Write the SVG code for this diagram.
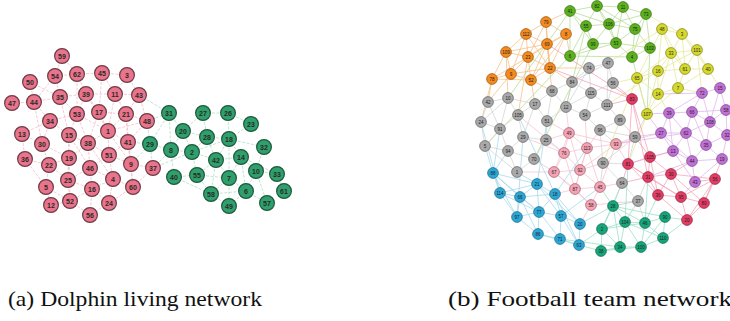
<svg xmlns="http://www.w3.org/2000/svg" width="730" height="321" viewBox="0 0 730 321">
<style>
.dp circle{fill:#e9748c;stroke:#6e3b45;stroke-width:1.2}
.dg circle{fill:#2f9f6c;stroke:#1c5a3d;stroke-width:1.2}
.dp text,.dg text{font-family:"Liberation Sans",Arial,sans-serif;font-size:7px;font-weight:bold;fill:#2a2a2a;text-anchor:middle;dominant-baseline:central}
.f circle{stroke-width:0.7;r:5.4px}
.f text{font-family:"Liberation Sans",Arial,sans-serif;font-size:4.5px;fill:#1e1e1e;text-anchor:middle;dominant-baseline:central}
.fo circle{fill:#f58a1f;stroke:#94500f}
.fg circle{fill:#5cb21c;stroke:#356a0d}
.fy circle{fill:#d5d92c;stroke:#7c7e14}
.fx circle{fill:#a9a9a9;stroke:#5e5e5e}
.fp circle{fill:#f5a3b5;stroke:#9a5a68}
.fr circle{fill:#e53c65;stroke:#8a1e3a}
.fu circle{fill:#c170d6;stroke:#74408a}
.fb circle{fill:#2ba7d6;stroke:#1a6585}
.ft circle{fill:#16a67b;stroke:#0c6348}
.e{fill:none;stroke-width:0.7}
.de{fill:none;stroke-width:0.8;stroke-dasharray:3 1.5}
.cap{font-family:"Liberation Serif","Times New Roman",serif;font-size:21px;fill:#111}
</style>
<g id="connectors">
<path class="de" stroke="#f4bcc7" d="M62 56L55 76M62 56L77 74M55 76L77 74M55 76L60 97M77 74L102 73M77 74L86 94M102 73L127 75M102 73L115 94M127 75L139 95M127 75L115 94M115 94L139 95M115 94L126 114M139 95L126 114M139 95L147 121M30 82L34 102M30 82L60 97M12 103L34 102M34 102L60 97M34 102L50 121M60 97L77 114M60 97L86 94M86 94L77 114M86 94L99 112M86 94L115 94M99 112L126 114M99 112L108 131M77 114L69 135M77 114L108 131M126 114L147 121M126 114L108 131M126 114L128 142M50 121L69 135M50 121L22 134M50 121L42 144M22 134L42 144M22 134L25 159M69 135L88 143M69 135L69 158M108 131L88 143M108 131L109 155M108 131L128 142M42 144L49 165M42 144L69 158M25 159L49 165M88 143L109 155M88 143L90 168M88 143L69 158M128 142L131 164M128 142L109 155M69 158L68 180M69 158L49 165M109 155L90 168M109 155L113 179M109 155L131 164M49 165L68 180M49 165L46 187M90 168L92 189M90 168L113 179M90 168L68 180M131 164L133 187M131 164L153 168M113 179L133 187M113 179L92 189M68 180L70 201M68 180L92 189M46 187L51 205M46 187L70 201M92 189L90 215M92 189L109 203M133 187L109 203M51 205L70 201M70 201L90 215M109 203L90 215M50 121L77 114M69 135L90 168M99 112L88 143M126 114L131 164M115 94L108 131M102 73L99 112M77 74L77 114M60 97L69 135M34 102L42 144M25 159L46 187M69 158L70 201M88 143L113 179M128 142L133 187M147 121L128 142M147 121L108 131M108 131L131 164M92 189L70 201M113 179L109 203M69 135L68 180M77 114L88 143M86 94L108 131M55 76L34 102M133 187L153 168"/>
<path class="de" stroke="#b3ddd2" d="M147 121L169 113M147 121L150 144M153 168L150 144M153 168L171 150M128 142L150 144M139 95L169 113M153 168L192 152M131 164L150 144"/>
<path class="de" stroke="#b0e0c8" d="M169 113L183 131M169 113L171 150M169 113L150 144M203 113L228 113M203 113L207 137M203 113L183 131M228 113L229 139M228 113L251 124M251 124L229 139M183 131L192 152M183 131L171 150M207 137L229 139M207 137L192 152M229 139L264 147M229 139L241 157M229 139L216 160M229 139L229 178M264 147L256 171M171 150L192 152M171 150L174 177M192 152L197 175M192 152L216 160M216 160L241 157M216 160L197 175M216 160L229 178M241 157L256 171M241 157L229 178M241 157L246 191M256 171L277 174M256 171L246 191M277 174L284 191M174 177L197 175M197 175L211 194M197 175L229 178M229 178L211 194M229 178L246 191M211 194L229 206M211 194L246 191M246 191L267 203M246 191L229 206M256 171L267 203M150 144L171 150M192 152L229 139M207 137L216 160M216 160L211 194M229 178L229 206M241 157L277 174M183 131L207 137M174 177L211 194"/>
<path class="e" stroke="#f7b978" d="M546 22L526 34M546 22L566 34M546 22L547 44M546 22L528 57M526 34L547 44M526 34L506 52M526 34L528 57M526 34L511 74M566 34L547 44M566 34L550 68M566 34L528 57M547 44L528 57M547 44L550 68M547 44L531 80M547 44L506 52M506 52L528 57M506 52L492 79M506 52L511 74M528 57L550 68M528 57L511 74M528 57L531 80M550 68L531 80M550 68L511 74M492 79L511 74M492 79L531 80M511 74L531 80M492 79L528 57M526 34L550 68M546 22L550 68M566 34L531 80M566 34L570 56M550 68L589 68M531 80L552 91M511 74L488 102M492 79L488 102M506 52L508 98M550 68L572 82M492 79L481 122M531 80L535 104M547 44L552 91M546 22L570 11M528 57L518 115"/>
<path class="e" stroke="#afd98a" d="M570 11L597 6M570 11L586 26M570 11L570 56M570 11L593 44M597 6L623 7M597 6L586 26M597 6L609 24M597 6L616 43M623 7L646 14M623 7L609 24M623 7L635 29M646 14L635 29M646 14L650 48M646 14L632 57M586 26L609 24M586 26L593 44M586 26L570 56M609 24L635 29M609 24L616 43M609 24L593 44M635 29L616 43M635 29L650 48M635 29L632 57M593 44L616 43M593 44L570 56M616 43L632 57M616 43L650 48M650 48L632 57M632 57L570 56M570 56L616 43M570 11L609 24M623 7L616 43M646 14L609 24M597 6L635 29M570 56L485 146M570 11L508 98M632 57L647 114M650 48L647 114M586 26L566 107M593 44L534 159"/>
<path class="e" stroke="#e4e68a" d="M662 29L682 34M662 29L671 53M662 29L658 71M662 29L637 78M682 34L671 53M682 34L697 50M682 34L685 69M671 53L697 50M671 53L658 71M671 53L685 69M671 53L658 94M697 50L685 69M697 50L708 69M658 71L685 69M658 71L637 78M658 71L658 94M658 71L647 114M685 69L708 69M685 69L678 88M708 69L678 88M637 78L658 94M637 78L647 114M658 94L678 88M658 94L647 114M678 88L647 114M662 29L685 69M682 34L708 69M671 53L678 88M637 78L671 53M697 50L658 71M678 88L702 93M708 69L720 88M658 94L669 113M637 78L613 83M662 29L608 63M658 71L607 105M682 34L646 14M697 50L702 93M647 114L628 164M637 78L603 163"/>
<path class="e" stroke="#d0d0d0" d="M589 68L608 63M589 68L572 82M589 68L591 93M608 63L613 83M613 83L591 93M613 83L607 105M572 82L552 91M572 82L566 107M572 82L591 93M552 91L535 104M552 91L566 107M591 93L566 107M591 93L585 115M591 93L607 105M607 105L620 120M607 105L585 115M585 115L600 130M585 115L566 107M620 120L600 130M620 120L635 137M508 98L488 102M508 98L535 104M508 98L518 115M488 102L481 122M488 102L500 129M481 122L500 129M481 122L485 146M535 104L518 115M535 104L547 121M518 115L500 129M518 115L523 137M547 121L546 140M547 121L566 107M523 137L546 140M523 137L508 151M500 129L485 146M500 129L508 151M485 146L508 151M508 151L534 159M534 159L546 140M534 159L517 172M600 130L603 163M635 137L603 163M603 163L622 183M622 183L638 201M608 63L607 105M552 91L547 121M508 98L500 129M535 104L523 137M517 172L508 151M485 146L517 172M589 68L566 107M608 63L572 82M600 130L635 137M481 122L508 98M638 201L648 177M638 201L645 223M622 183L613 206M603 163L628 164M603 163L600 187M635 137L647 114M635 137L628 164M600 130L616 144M546 140L564 153"/>
<path class="e" stroke="#f6bccb" d="M569 133L564 153M569 133L587 148M569 133L616 144M569 133L580 170M564 153L587 148M564 153L554 172M564 153L580 170M587 148L616 144M587 148L580 170M587 148L575 189M616 144L600 187M616 144L580 170M554 172L580 170M554 172L575 189M580 170L575 189M580 170L600 187M575 189L600 187M575 189L591 205M600 187L591 205M554 172L591 205M569 133L554 172M564 153L575 189M587 148L600 187M569 133L546 140M564 153L523 137M554 172L517 172M580 170L603 163M600 187L622 183M591 205L580 224M616 144L635 137M587 148L585 115M569 133L547 121M575 189L555 194M616 144L628 164M564 153L518 115M569 133L566 107M587 148L600 130M616 144L661 133M554 172L534 159M591 205L638 201"/>
<path class="e" stroke="#f39ab0" d="M632 99L628 164M632 99L650 157M632 99L648 177M650 157L628 164M650 157L648 177M650 157L671 174M628 164L648 177M628 164L658 195M648 177L671 174M648 177L658 195M648 177L681 197M671 174L715 179M671 174L681 197M671 174L658 195M715 179L681 197M715 179L704 203M658 195L681 197M658 195L687 220M681 197L704 203M681 197L687 220M704 203L687 220M628 164L681 197M671 174L704 203M650 157L658 195M715 179L687 220M632 99L550 68M632 99L547 44M671 174L692 161M715 179L695 182M704 203L722 159M650 157L673 151M632 99L613 83M628 164L622 183M632 99L607 105M648 177L622 183M650 157L635 137"/>
<path class="e" stroke="#dcaeea" d="M702 93L720 88M702 93L692 112M702 93L710 122M702 93L669 113M720 88L726 110M720 88L710 122M669 113L692 112M669 113L661 133M669 113L686 133M692 112L686 133M692 112L710 122M692 112L726 110M726 110L710 122M726 110L727 135M710 122L686 133M710 122L706 145M710 122L727 135M661 133L686 133M661 133L673 151M686 133L673 151M686 133L706 145M686 133L692 161M727 135L706 145M727 135L722 159M706 145L722 159M706 145L692 161M673 151L692 161M722 159L692 161M692 161L695 182M722 159L695 182M673 151L695 182M661 133L692 161M669 113L673 151M692 112L706 145M661 133L647 114M669 113L647 114M673 151L628 164M661 133L635 137M695 182L681 197M702 93L658 94M686 133L616 144M692 161L648 177"/>
<path class="e" stroke="#9bd5ea" d="M493 173L537 184M493 173L500 193M493 173L520 197M493 173L517 217M537 184L500 193M537 184L520 197M537 184L555 194M537 184L539 212M537 184L561 216M500 193L520 197M500 193L517 217M520 197L555 194M520 197L539 212M520 197L517 217M555 194L561 216M555 194L539 212M555 194L580 224M517 217L539 212M517 217L538 234M539 212L561 216M539 212L538 234M539 212L560 239M561 216L580 224M561 216L560 239M561 216L579 245M580 224L579 245M538 234L560 239M538 234L579 245M560 239L579 245M493 173L539 212M500 193L539 212M537 184L580 224M520 197L538 234M555 194L579 245M493 173L485 146M537 184L517 172M493 173L508 151M537 184L547 121M555 194L587 148M500 193L481 122M517 217L523 137M561 216L600 187M555 194L518 115M493 173L500 129"/>
<path class="e" stroke="#8fdcc0" d="M613 206L625 222M613 206L645 223M613 206L602 229M613 206L665 217M625 222L645 223M625 222L602 229M625 222L620 247M625 222L641 247M645 223L665 217M645 223L663 238M645 223L641 247M665 217L663 238M602 229L601 251M602 229L620 247M601 251L620 247M620 247L641 247M641 247L663 238M613 206L620 247M601 251L641 247M625 222L663 238M665 217L641 247M602 229L645 223M602 229L579 245M601 251L579 245M613 206L580 224M665 217L687 220M663 238L687 220M613 206L638 201M645 223L648 177M602 229L622 183M625 222L628 164M613 206L600 187M620 247L560 239M625 222L638 201M645 223L658 195"/>
</g>
<g id="dolphin-nodes">
<g id="dolphin-59" class="dp"><circle cx="62" cy="56" r="7.4"/><text x="62" y="56">59</text></g>
<g id="dolphin-54" class="dp"><circle cx="55" cy="76" r="7.4"/><text x="55" y="76">54</text></g>
<g id="dolphin-62" class="dp"><circle cx="77" cy="74" r="7.4"/><text x="77" y="74">62</text></g>
<g id="dolphin-45" class="dp"><circle cx="102" cy="73" r="7.4"/><text x="102" y="73">45</text></g>
<g id="dolphin-3" class="dp"><circle cx="127" cy="75" r="7.4"/><text x="127" y="75">3</text></g>
<g id="dolphin-50" class="dp"><circle cx="30" cy="82" r="7.4"/><text x="30" y="82">50</text></g>
<g id="dolphin-35" class="dp"><circle cx="60" cy="97" r="7.4"/><text x="60" y="97">35</text></g>
<g id="dolphin-39" class="dp"><circle cx="86" cy="94" r="7.4"/><text x="86" y="94">39</text></g>
<g id="dolphin-11" class="dp"><circle cx="115" cy="94" r="7.4"/><text x="115" y="94">11</text></g>
<g id="dolphin-43" class="dp"><circle cx="139" cy="95" r="7.4"/><text x="139" y="95">43</text></g>
<g id="dolphin-47" class="dp"><circle cx="12" cy="103" r="7.4"/><text x="12" y="103">47</text></g>
<g id="dolphin-44" class="dp"><circle cx="34" cy="102" r="7.4"/><text x="34" y="102">44</text></g>
<g id="dolphin-53" class="dp"><circle cx="77" cy="114" r="7.4"/><text x="77" y="114">53</text></g>
<g id="dolphin-17" class="dp"><circle cx="99" cy="112" r="7.4"/><text x="99" y="112">17</text></g>
<g id="dolphin-21" class="dp"><circle cx="126" cy="114" r="7.4"/><text x="126" y="114">21</text></g>
<g id="dolphin-48" class="dp"><circle cx="147" cy="121" r="7.4"/><text x="147" y="121">48</text></g>
<g id="dolphin-34" class="dp"><circle cx="50" cy="121" r="7.4"/><text x="50" y="121">34</text></g>
<g id="dolphin-13" class="dp"><circle cx="22" cy="134" r="7.4"/><text x="22" y="134">13</text></g>
<g id="dolphin-15" class="dp"><circle cx="69" cy="135" r="7.4"/><text x="69" y="135">15</text></g>
<g id="dolphin-1" class="dp"><circle cx="108" cy="131" r="7.4"/><text x="108" y="131">1</text></g>
<g id="dolphin-30" class="dp"><circle cx="42" cy="144" r="7.4"/><text x="42" y="144">30</text></g>
<g id="dolphin-38" class="dp"><circle cx="88" cy="143" r="7.4"/><text x="88" y="143">38</text></g>
<g id="dolphin-41" class="dp"><circle cx="128" cy="142" r="7.4"/><text x="128" y="142">41</text></g>
<g id="dolphin-36" class="dp"><circle cx="25" cy="159" r="7.4"/><text x="25" y="159">36</text></g>
<g id="dolphin-19" class="dp"><circle cx="69" cy="158" r="7.4"/><text x="69" y="158">19</text></g>
<g id="dolphin-51" class="dp"><circle cx="109" cy="155" r="7.4"/><text x="109" y="155">51</text></g>
<g id="dolphin-22" class="dp"><circle cx="49" cy="165" r="7.4"/><text x="49" y="165">22</text></g>
<g id="dolphin-46" class="dp"><circle cx="90" cy="168" r="7.4"/><text x="90" y="168">46</text></g>
<g id="dolphin-9" class="dp"><circle cx="131" cy="164" r="7.4"/><text x="131" y="164">9</text></g>
<g id="dolphin-37" class="dp"><circle cx="153" cy="168" r="7.4"/><text x="153" y="168">37</text></g>
<g id="dolphin-25" class="dp"><circle cx="68" cy="180" r="7.4"/><text x="68" y="180">25</text></g>
<g id="dolphin-4" class="dp"><circle cx="113" cy="179" r="7.4"/><text x="113" y="179">4</text></g>
<g id="dolphin-5" class="dp"><circle cx="46" cy="187" r="7.4"/><text x="46" y="187">5</text></g>
<g id="dolphin-16" class="dp"><circle cx="92" cy="189" r="7.4"/><text x="92" y="189">16</text></g>
<g id="dolphin-60" class="dp"><circle cx="133" cy="187" r="7.4"/><text x="133" y="187">60</text></g>
<g id="dolphin-12" class="dp"><circle cx="51" cy="205" r="7.4"/><text x="51" y="205">12</text></g>
<g id="dolphin-52" class="dp"><circle cx="70" cy="201" r="7.4"/><text x="70" y="201">52</text></g>
<g id="dolphin-24" class="dp"><circle cx="109" cy="203" r="7.4"/><text x="109" y="203">24</text></g>
<g id="dolphin-56" class="dp"><circle cx="90" cy="215" r="7.4"/><text x="90" y="215">56</text></g>
<g id="dolphin-29" class="dg"><circle cx="150" cy="144" r="7.4"/><text x="150" y="144">29</text></g>
<g id="dolphin-31" class="dg"><circle cx="169" cy="113" r="7.4"/><text x="169" y="113">31</text></g>
<g id="dolphin-27" class="dg"><circle cx="203" cy="113" r="7.4"/><text x="203" y="113">27</text></g>
<g id="dolphin-26" class="dg"><circle cx="228" cy="113" r="7.4"/><text x="228" y="113">26</text></g>
<g id="dolphin-23" class="dg"><circle cx="251" cy="124" r="7.4"/><text x="251" y="124">23</text></g>
<g id="dolphin-20" class="dg"><circle cx="183" cy="131" r="7.4"/><text x="183" y="131">20</text></g>
<g id="dolphin-28" class="dg"><circle cx="207" cy="137" r="7.4"/><text x="207" y="137">28</text></g>
<g id="dolphin-18" class="dg"><circle cx="229" cy="139" r="7.4"/><text x="229" y="139">18</text></g>
<g id="dolphin-32" class="dg"><circle cx="264" cy="147" r="7.4"/><text x="264" y="147">32</text></g>
<g id="dolphin-8" class="dg"><circle cx="171" cy="150" r="7.4"/><text x="171" y="150">8</text></g>
<g id="dolphin-2" class="dg"><circle cx="192" cy="152" r="7.4"/><text x="192" y="152">2</text></g>
<g id="dolphin-42" class="dg"><circle cx="216" cy="160" r="7.4"/><text x="216" y="160">42</text></g>
<g id="dolphin-14" class="dg"><circle cx="241" cy="157" r="7.4"/><text x="241" y="157">14</text></g>
<g id="dolphin-40" class="dg"><circle cx="174" cy="177" r="7.4"/><text x="174" y="177">40</text></g>
<g id="dolphin-55" class="dg"><circle cx="197" cy="175" r="7.4"/><text x="197" y="175">55</text></g>
<g id="dolphin-7" class="dg"><circle cx="229" cy="178" r="7.4"/><text x="229" y="178">7</text></g>
<g id="dolphin-10" class="dg"><circle cx="256" cy="171" r="7.4"/><text x="256" y="171">10</text></g>
<g id="dolphin-33" class="dg"><circle cx="277" cy="174" r="7.4"/><text x="277" y="174">33</text></g>
<g id="dolphin-58" class="dg"><circle cx="211" cy="194" r="7.4"/><text x="211" y="194">58</text></g>
<g id="dolphin-6" class="dg"><circle cx="246" cy="191" r="7.4"/><text x="246" y="191">6</text></g>
<g id="dolphin-61" class="dg"><circle cx="284" cy="191" r="7.4"/><text x="284" y="191">61</text></g>
<g id="dolphin-49" class="dg"><circle cx="229" cy="206" r="7.4"/><text x="229" y="206">49</text></g>
<g id="dolphin-57" class="dg"><circle cx="267" cy="203" r="7.4"/><text x="267" y="203">57</text></g>
</g>
<g id="football-nodes">
<g id="fb-79" class="f fo"><circle cx="546" cy="22" r="5.4"/><text x="546" y="22">79</text></g>
<g id="fb-112" class="f fo"><circle cx="526" cy="34" r="5.4"/><text x="526" y="34">112</text></g>
<g id="fb-8" class="f fo"><circle cx="566" cy="34" r="5.4"/><text x="566" y="34">8</text></g>
<g id="fb-69" class="f fo"><circle cx="547" cy="44" r="5.4"/><text x="547" y="44">69</text></g>
<g id="fb-109" class="f fo"><circle cx="506" cy="52" r="5.4"/><text x="506" y="52">109</text></g>
<g id="fb-23" class="f fo"><circle cx="528" cy="57" r="5.4"/><text x="528" y="57">23</text></g>
<g id="fb-22" class="f fo"><circle cx="550" cy="68" r="5.4"/><text x="550" y="68">22</text></g>
<g id="fb-78" class="f fo"><circle cx="492" cy="79" r="5.4"/><text x="492" y="79">78</text></g>
<g id="fb-9" class="f fo"><circle cx="511" cy="74" r="5.4"/><text x="511" y="74">9</text></g>
<g id="fb-52" class="f fo"><circle cx="531" cy="80" r="5.4"/><text x="531" y="80">52</text></g>
<g id="fb-41" class="f fg"><circle cx="570" cy="11" r="5.4"/><text x="570" y="11">41</text></g>
<g id="fb-82" class="f fg"><circle cx="597" cy="6" r="5.4"/><text x="597" y="6">82</text></g>
<g id="fb-11" class="f fg"><circle cx="623" cy="7" r="5.4"/><text x="623" y="7">11</text></g>
<g id="fb-73" class="f fg"><circle cx="646" cy="14" r="5.4"/><text x="646" y="14">73</text></g>
<g id="fb-55" class="f fg"><circle cx="586" cy="26" r="5.4"/><text x="586" y="26">55</text></g>
<g id="fb-106" class="f fg"><circle cx="609" cy="24" r="5.4"/><text x="609" y="24">106</text></g>
<g id="fb-75" class="f fg"><circle cx="635" cy="29" r="5.4"/><text x="635" y="29">75</text></g>
<g id="fb-99g" class="f fg"><circle cx="593" cy="44" r="5.4"/><text x="593" y="44">99</text></g>
<g id="fb-53" class="f fg"><circle cx="616" cy="43" r="5.4"/><text x="616" y="43">53</text></g>
<g id="fb-103" class="f fg"><circle cx="650" cy="48" r="5.4"/><text x="650" y="48">103</text></g>
<g id="fb-4" class="f fg"><circle cx="632" cy="57" r="5.4"/><text x="632" y="57">4</text></g>
<g id="fb-6" class="f fg"><circle cx="570" cy="56" r="5.4"/><text x="570" y="56">6</text></g>
<g id="fb-48" class="f fy"><circle cx="662" cy="29" r="5.4"/><text x="662" y="29">48</text></g>
<g id="fb-3" class="f fy"><circle cx="682" cy="34" r="5.4"/><text x="682" y="34">3</text></g>
<g id="fb-33" class="f fy"><circle cx="671" cy="53" r="5.4"/><text x="671" y="53">33</text></g>
<g id="fb-101" class="f fy"><circle cx="697" cy="50" r="5.4"/><text x="697" y="50">101</text></g>
<g id="fb-16" class="f fy"><circle cx="658" cy="71" r="5.4"/><text x="658" y="71">16</text></g>
<g id="fb-61" class="f fy"><circle cx="685" cy="69" r="5.4"/><text x="685" y="69">61</text></g>
<g id="fb-40" class="f fy"><circle cx="708" cy="69" r="5.4"/><text x="708" y="69">40</text></g>
<g id="fb-65" class="f fy"><circle cx="637" cy="78" r="5.4"/><text x="637" y="78">65</text></g>
<g id="fb-14" class="f fy"><circle cx="658" cy="94" r="5.4"/><text x="658" y="94">14</text></g>
<g id="fb-7" class="f fy"><circle cx="678" cy="88" r="5.4"/><text x="678" y="88">7</text></g>
<g id="fb-107" class="f fy"><circle cx="647" cy="114" r="5.4"/><text x="647" y="114">107</text></g>
<g id="fb-74" class="f fx"><circle cx="589" cy="68" r="5.4"/><text x="589" y="68">74</text></g>
<g id="fb-47" class="f fx"><circle cx="608" cy="63" r="5.4"/><text x="608" y="63">47</text></g>
<g id="fb-84" class="f fx"><circle cx="572" cy="82" r="5.4"/><text x="572" y="82">84</text></g>
<g id="fb-56" class="f fx"><circle cx="613" cy="83" r="5.4"/><text x="613" y="83">56</text></g>
<g id="fb-68" class="f fx"><circle cx="552" cy="91" r="5.4"/><text x="552" y="91">68</text></g>
<g id="fb-115" class="f fx"><circle cx="591" cy="93" r="5.4"/><text x="591" y="93">115</text></g>
<g id="fb-10" class="f fx"><circle cx="508" cy="98" r="5.4"/><text x="508" y="98">10</text></g>
<g id="fb-42" class="f fx"><circle cx="488" cy="102" r="5.4"/><text x="488" y="102">42</text></g>
<g id="fb-17" class="f fx"><circle cx="535" cy="104" r="5.4"/><text x="535" y="104">17</text></g>
<g id="fb-12" class="f fx"><circle cx="566" cy="107" r="5.4"/><text x="566" y="107">12</text></g>
<g id="fb-111" class="f fx"><circle cx="607" cy="105" r="5.4"/><text x="607" y="105">111</text></g>
<g id="fb-105" class="f fx"><circle cx="518" cy="115" r="5.4"/><text x="518" y="115">105</text></g>
<g id="fb-54" class="f fx"><circle cx="585" cy="115" r="5.4"/><text x="585" y="115">54</text></g>
<g id="fb-89" class="f fx"><circle cx="620" cy="120" r="5.4"/><text x="620" y="120">89</text></g>
<g id="fb-24" class="f fx"><circle cx="481" cy="122" r="5.4"/><text x="481" y="122">24</text></g>
<g id="fb-51" class="f fx"><circle cx="547" cy="121" r="5.4"/><text x="547" y="121">51</text></g>
<g id="fb-96" class="f fx"><circle cx="600" cy="130" r="5.4"/><text x="600" y="130">96</text></g>
<g id="fb-91" class="f fx"><circle cx="500" cy="129" r="5.4"/><text x="500" y="129">91</text></g>
<g id="fb-29" class="f fx"><circle cx="523" cy="137" r="5.4"/><text x="523" y="137">29</text></g>
<g id="fb-25" class="f fx"><circle cx="546" cy="140" r="5.4"/><text x="546" y="140">25</text></g>
<g id="fb-59" class="f fx"><circle cx="635" cy="137" r="5.4"/><text x="635" y="137">59</text></g>
<g id="fb-5" class="f fx"><circle cx="485" cy="146" r="5.4"/><text x="485" y="146">5</text></g>
<g id="fb-94" class="f fx"><circle cx="508" cy="151" r="5.4"/><text x="508" y="151">94</text></g>
<g id="fb-70" class="f fx"><circle cx="534" cy="159" r="5.4"/><text x="534" y="159">70</text></g>
<g id="fb-90" class="f fx"><circle cx="603" cy="163" r="5.4"/><text x="603" y="163">90</text></g>
<g id="fb-1" class="f fx"><circle cx="517" cy="172" r="5.4"/><text x="517" y="172">1</text></g>
<g id="fb-64" class="f fx"><circle cx="622" cy="183" r="5.4"/><text x="622" y="183">64</text></g>
<g id="fb-37" class="f fx"><circle cx="638" cy="201" r="5.4"/><text x="638" y="201">37</text></g>
<g id="fb-49" class="f fp"><circle cx="569" cy="133" r="5.4"/><text x="569" y="133">49</text></g>
<g id="fb-93" class="f fp"><circle cx="616" cy="144" r="5.4"/><text x="616" y="144">93</text></g>
<g id="fb-76" class="f fp"><circle cx="564" cy="153" r="5.4"/><text x="564" y="153">76</text></g>
<g id="fb-113" class="f fp"><circle cx="587" cy="148" r="5.4"/><text x="587" y="148">113</text></g>
<g id="fb-67" class="f fp"><circle cx="554" cy="172" r="5.4"/><text x="554" y="172">67</text></g>
<g id="fb-92" class="f fp"><circle cx="580" cy="170" r="5.4"/><text x="580" y="170">92</text></g>
<g id="fb-87" class="f fp"><circle cx="575" cy="189" r="5.4"/><text x="575" y="189">87</text></g>
<g id="fb-45" class="f fp"><circle cx="600" cy="187" r="5.4"/><text x="600" y="187">45</text></g>
<g id="fb-58" class="f fp"><circle cx="591" cy="205" r="5.4"/><text x="591" y="205">58</text></g>
<g id="fb-83" class="f fr"><circle cx="632" cy="99" r="5.4"/><text x="632" y="99">83</text></g>
<g id="fb-105r" class="f fr"><circle cx="650" cy="157" r="5.4"/><text x="650" y="157">105</text></g>
<g id="fb-81" class="f fr"><circle cx="628" cy="164" r="5.4"/><text x="628" y="164">81</text></g>
<g id="fb-31" class="f fr"><circle cx="648" cy="177" r="5.4"/><text x="648" y="177">31</text></g>
<g id="fb-30" class="f fr"><circle cx="671" cy="174" r="5.4"/><text x="671" y="174">30</text></g>
<g id="fb-56r" class="f fr"><circle cx="715" cy="179" r="5.4"/><text x="715" y="179">56</text></g>
<g id="fb-36" class="f fr"><circle cx="658" cy="195" r="5.4"/><text x="658" y="195">36</text></g>
<g id="fb-95" class="f fr"><circle cx="681" cy="197" r="5.4"/><text x="681" y="197">95</text></g>
<g id="fb-80" class="f fr"><circle cx="704" cy="203" r="5.4"/><text x="704" y="203">80</text></g>
<g id="fb-20r" class="f fr"><circle cx="687" cy="220" r="5.4"/><text x="687" y="220">20</text></g>
<g id="fb-72" class="f fu"><circle cx="702" cy="93" r="5.4"/><text x="702" y="93">72</text></g>
<g id="fb-15" class="f fu"><circle cx="720" cy="88" r="5.4"/><text x="720" y="88">15</text></g>
<g id="fb-39" class="f fu"><circle cx="669" cy="113" r="5.4"/><text x="669" y="113">39</text></g>
<g id="fb-66" class="f fu"><circle cx="692" cy="112" r="5.4"/><text x="692" y="112">66</text></g>
<g id="fb-58u" class="f fu"><circle cx="726" cy="110" r="5.4"/><text x="726" y="110">58</text></g>
<g id="fb-108" class="f fu"><circle cx="710" cy="122" r="5.4"/><text x="710" y="122">108</text></g>
<g id="fb-27" class="f fu"><circle cx="661" cy="133" r="5.4"/><text x="661" y="133">27</text></g>
<g id="fb-62" class="f fu"><circle cx="686" cy="133" r="5.4"/><text x="686" y="133">62</text></g>
<g id="fb-32" class="f fu"><circle cx="727" cy="135" r="5.4"/><text x="727" y="135">32</text></g>
<g id="fb-35" class="f fu"><circle cx="706" cy="145" r="5.4"/><text x="706" y="145">35</text></g>
<g id="fb-13" class="f fu"><circle cx="673" cy="151" r="5.4"/><text x="673" y="151">13</text></g>
<g id="fb-19" class="f fu"><circle cx="722" cy="159" r="5.4"/><text x="722" y="159">19</text></g>
<g id="fb-44" class="f fu"><circle cx="692" cy="161" r="5.4"/><text x="692" y="161">44</text></g>
<g id="fb-43" class="f fu"><circle cx="695" cy="182" r="5.4"/><text x="695" y="182">43</text></g>
<g id="fb-88" class="f fb"><circle cx="493" cy="173" r="5.4"/><text x="493" y="173">88</text></g>
<g id="fb-21" class="f fb"><circle cx="537" cy="184" r="5.4"/><text x="537" y="184">21</text></g>
<g id="fb-114" class="f fb"><circle cx="500" cy="193" r="5.4"/><text x="500" y="193">114</text></g>
<g id="fb-66b" class="f fb"><circle cx="520" cy="197" r="5.4"/><text x="520" y="197">66</text></g>
<g id="fb-18" class="f fb"><circle cx="555" cy="194" r="5.4"/><text x="555" y="194">18</text></g>
<g id="fb-97" class="f fb"><circle cx="517" cy="217" r="5.4"/><text x="517" y="217">97</text></g>
<g id="fb-77" class="f fb"><circle cx="539" cy="212" r="5.4"/><text x="539" y="212">77</text></g>
<g id="fb-57" class="f fb"><circle cx="561" cy="216" r="5.4"/><text x="561" y="216">57</text></g>
<g id="fb-20" class="f fb"><circle cx="580" cy="224" r="5.4"/><text x="580" y="224">20</text></g>
<g id="fb-86" class="f fb"><circle cx="538" cy="234" r="5.4"/><text x="538" y="234">86</text></g>
<g id="fb-71" class="f fb"><circle cx="560" cy="239" r="5.4"/><text x="560" y="239">71</text></g>
<g id="fb-63" class="f fb"><circle cx="579" cy="245" r="5.4"/><text x="579" y="245">63</text></g>
<g id="fb-28" class="f ft"><circle cx="613" cy="206" r="5.4"/><text x="613" y="206">28</text></g>
<g id="fb-104" class="f ft"><circle cx="625" cy="222" r="5.4"/><text x="625" y="222">104</text></g>
<g id="fb-46" class="f ft"><circle cx="645" cy="223" r="5.4"/><text x="645" y="223">46</text></g>
<g id="fb-99t" class="f ft"><circle cx="665" cy="217" r="5.4"/><text x="665" y="217">90</text></g>
<g id="fb-2" class="f ft"><circle cx="602" cy="229" r="5.4"/><text x="602" y="229">2</text></g>
<g id="fb-110" class="f ft"><circle cx="663" cy="238" r="5.4"/><text x="663" y="238">110</text></g>
<g id="fb-38" class="f ft"><circle cx="601" cy="251" r="5.4"/><text x="601" y="251">38</text></g>
<g id="fb-34" class="f ft"><circle cx="620" cy="247" r="5.4"/><text x="620" y="247">34</text></g>
<g id="fb-100" class="f ft"><circle cx="641" cy="247" r="5.4"/><text x="641" y="247">100</text></g>
</g>
<g id="captions">
<text class="cap" x="8" y="306" textLength="254" lengthAdjust="spacingAndGlyphs">(a) Dolphin living network</text>
<text class="cap" x="448" y="306" textLength="284" lengthAdjust="spacingAndGlyphs">(b) Football team network</text>
</g>
</svg>
